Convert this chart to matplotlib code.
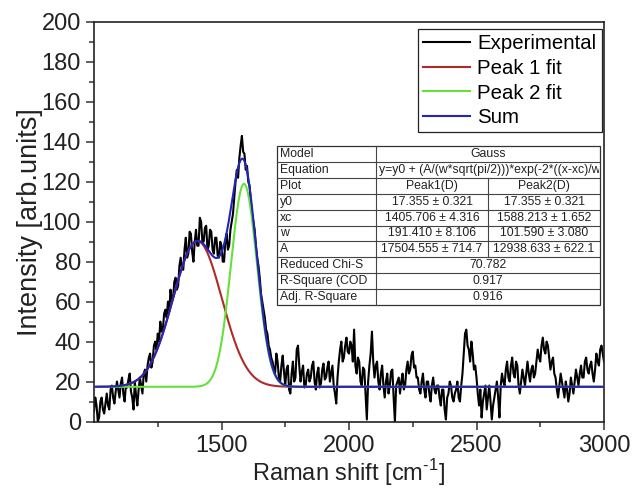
import numpy as np
import matplotlib
matplotlib.use("Agg")
import matplotlib.pyplot as plt
from matplotlib.lines import Line2D
from matplotlib.patches import Rectangle

plt.rcParams['font.family'] = ['Liberation Sans', 'DejaVu Sans']
plt.rcParams['mathtext.fontset'] = 'custom'
plt.rcParams['mathtext.rm'] = 'Liberation Sans'

# ---- measured spectrum (Raman shift, intensity) ----
shift_start, shift_step = 1000, 5
intensity = [
    5, 12, 8, 0, 2, 10, 12, 6, 4, 9,
    14, 8, 6, 16, 18, 12, 9, 15, 20, 16,
    12, 19, 22, 14, 10, 18, 17, 21, 24, 15,
    12, 6, 20, 13, 8, 16, 22, 18, 14, 24,
    26, 20, 28, 32, 34, 27, 30, 38, 40, 36,
    44, 40, 50, 45, 46, 54, 56, 52, 60, 55,
    66, 60, 62, 70, 72, 66, 68, 78, 82, 76,
    76, 86, 92, 82, 84, 95, 94, 85, 80, 90,
    96, 88, 88, 102, 100, 90, 90, 97, 98, 86,
    88, 96, 95, 86, 84, 92, 92, 83, 82, 90,
    88, 80, 80, 90, 94, 86, 88, 96, 100, 104,
    112, 120, 126, 122, 132, 138, 143, 135, 134, 126,
    128, 120, 118, 110, 104, 100, 96, 88, 82, 78,
    72, 64, 60, 56, 52, 46, 44, 38, 36, 32,
    30, 26, 24, 34, 30, 22, 20, 28, 33, 25,
    18, 26, 28, 16, 14, 24, 30, 20, 22, 36,
    38, 28, 20, 25, 28, 17, 18, 24, 26, 20,
    22, 28, 30, 20, 16, 24, 27, 17, 19, 26,
    29, 21, 22, 27, 30, 20, 24, 28, 18, 14,
    9, 22, 30, 36, 40, 30, 32, 38, 42, 35,
    34, 40, 38, 30, 46, 28, 24, 32, 30, 20,
    18, 27, 26, 14, 1, 20, 28, 34, 45, 30,
    22, 28, 30, 20, 16, 24, 28, 18, 12, 20,
    24, 14, 18, 25, 26, 12, 0, 18, 20, 22,
    14, 20, 24, 16, 18, 26, 30, 24, 26, 33,
    35, 27, 28, 22, 22, 16, 14, 20, 24, 16,
    12, 20, 20, 14, 10, 18, 22, 16, 14, 18,
    18, 12, 8, 16, 16, 6, 1, 12, 14, 20,
    18, 12, 10, 14, 16, 20, 12, 10, 18, 24,
    34, 44, 46, 38, 36, 30, 40, 34, 26, 28,
    22, 14, 8, 16, 2, 10, 14, 18, 6, 12,
    18, 10, 1, 8, 12, 16, 20, 12, 2, 18,
    24, 20, 18, 26, 30, 22, 20, 28, 32, 24,
    22, 30, 28, 18, 14, 20, 26, 22, 18, 24,
    30, 24, 20, 26, 28, 22, 24, 30, 36, 32,
    30, 38, 42, 36, 34, 40, 38, 32, 26, 30,
    32, 24, 22, 16, 12, 18, 24, 20, 16, 12,
    20, 16, 10, 14, 22, 18, 14, 20, 26, 22,
    18, 24, 28, 22, 22, 30, 32, 26, 24, 28,
    30, 24, 20, 26, 34, 30, 28, 36, 38, 34,
    30,
]
raman_shift = shift_start + shift_step * np.arange(len(intensity))

# ---- Gauss fit parameters ----
y0 = 17.355
peak_xc = [1405.706, 1588.213]
peak_w = [191.410, 101.590]
peak_A = [17504.555, 12938.633]

table_rows = [
    ("Model", "Gauss", None),
    ("Equation", "y=y0 + (A/(w*sqrt(pi/2)))*exp(-2*((x-xc)/w)^2)", None),
    ("Plot", "Peak1(D)", "Peak2(D)"),
    ("y0", "17.355 \u00b1 0.321", "17.355 \u00b1 0.321"),
    ("xc", "1405.706 \u00b1 4.316", "1588.213 \u00b1 1.652"),
    ("w", "191.410 \u00b1 8.106", "101.590 \u00b1 3.080"),
    ("A", "17504.555 \u00b1 714.7", "12938.633 \u00b1 622.1"),
    ("Reduced Chi-S", "70.782", None),
    ("R-Square (COD", "0.917", None),
    ("Adj. R-Square", "0.916", None),
]


def gauss(x, xc, w, A):
    return A / (w * np.sqrt(np.pi / 2)) * np.exp(-2 * ((x - xc) / w) ** 2)


W, H = 632, 488
fig = plt.figure(figsize=(W / 100, H / 100), dpi=100)
ax = fig.add_axes([94 / W, 1 - 421.5 / H, (604 - 94) / W, (421.5 - 22) / H])

xf = np.linspace(1000, 3000, 2001)
g1 = gauss(xf, peak_xc[0], peak_w[0], peak_A[0])
g2 = gauss(xf, peak_xc[1], peak_w[1], peak_A[1])

ax.plot(raman_shift, intensity, color='black', lw=1.5, label='Experimental', zorder=2)
ax.plot(xf, y0 + g1, color='#b02a2a', lw=1.5, label='Peak 1 fit', zorder=3)
ax.plot(xf, y0 + g2, color='#66e03a', lw=1.5, label='Peak 2 fit', zorder=3)
ax.plot(xf, y0 + g1 + g2, color='#2424b8', lw=1.5, label='Sum', zorder=4)

ax.set_xlim(1000, 3000)
ax.set_ylim(0, 200)
ax.set_xticks([1500, 2000, 2500, 3000])
ax.set_xticks([1250, 1750, 2250, 2750], minor=True)
ax.set_yticks(np.arange(0, 201, 20))
ax.set_yticks(np.arange(10, 200, 20), minor=True)
ax.tick_params(which='both', direction='out', top=False, right=False,
               labelsize=17, width=1.1, color='#333333', labelcolor='#222222')
ax.tick_params(which='major', length=6)
ax.tick_params(which='minor', length=3.5)
for s in ax.spines.values():
    s.set_linewidth(1.2)
    s.set_color('#222222')

ax.set_xlabel(r'Raman shift [cm$^{\text{-1}}$]', fontsize=17, labelpad=0, color='#222222')
ax.set_ylabel('Intensity [arb.units]', fontsize=19.5, labelpad=-1, color='#222222')

leg = ax.legend(loc='upper right', bbox_to_anchor=(601.5 / W, 1 - 29 / H),
                bbox_transform=fig.transFigure, fontsize=14.7, frameon=True,
                fancybox=False, edgecolor='#222222', framealpha=1,
                handlelength=2.3, handletextpad=0.35, labelspacing=0.28,
                borderpad=0.25, borderaxespad=0)
leg.get_frame().set_linewidth(0.9)

# ---- parameter table ----
tl, c1, c2, tr = 277, 376, 488, 600
ttop, rh = 146, 15.9
nrows = len(table_rows)
tbot = ttop + rh * nrows


def fx(px):
    return px / W


def fy(py):
    return 1 - py / H


fig.add_artist(Rectangle((fx(tl), fy(tbot)), fx(tr) - fx(tl), fy(ttop) - fy(tbot),
                         transform=fig.transFigure, facecolor='white',
                         edgecolor='#333333', lw=0.9, zorder=5))
tfs = 8.8
for i, (name, a, b) in enumerate(table_rows):
    top = ttop + i * rh
    mid = top + rh / 2
    if i > 0:
        fig.add_artist(Line2D([fx(tl), fx(tr)], [fy(top), fy(top)],
                              transform=fig.transFigure, color='#444444', lw=0.8, zorder=6))
    fig.add_artist(Line2D([fx(c1), fx(c1)], [fy(top), fy(top + rh)],
                          transform=fig.transFigure, color='#444444', lw=0.8, zorder=6))
    fig.text(fx(tl + 3), fy(mid), name, fontsize=tfs, ha='left', va='center',
             color='#222222', zorder=7)
    if b is None:
        if name == "Equation":
            t = fig.text(fx(c1 + 3), fy(mid), a, fontsize=tfs, ha='left', va='center',
                         color='#222222', zorder=7)
            clip = Rectangle((fx(c1), fy(top + rh)), fx(tr - 1) - fx(c1), fy(top) - fy(top + rh),
                             transform=fig.transFigure, visible=False)
            fig.add_artist(clip)
            t.set_clip_path(clip)
        else:
            fig.text(fx((c1 + tr) / 2), fy(mid), a, fontsize=tfs, ha='center', va='center',
                     color='#222222', zorder=7)
    else:
        fig.add_artist(Line2D([fx(c2), fx(c2)], [fy(top), fy(top + rh)],
                              transform=fig.transFigure, color='#444444', lw=0.8, zorder=6))
        fig.text(fx((c1 + c2) / 2), fy(mid), a, fontsize=tfs, ha='center', va='center',
                 color='#222222', zorder=7)
        fig.text(fx((c2 + tr) / 2), fy(mid), b, fontsize=tfs, ha='center', va='center',
                 color='#222222', zorder=7)

fig.savefig('out.png', dpi=100, facecolor='white')
